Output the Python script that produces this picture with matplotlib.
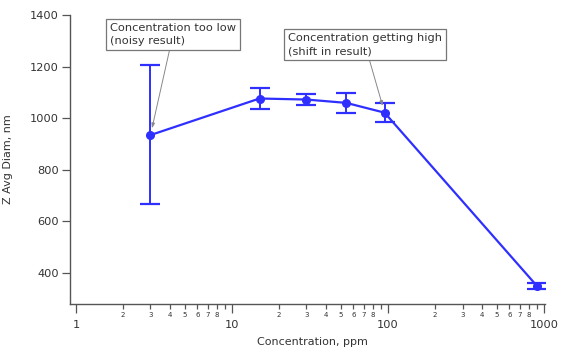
import numpy as np
import matplotlib
matplotlib.use("Agg")
import matplotlib.pyplot as plt
from matplotlib.ticker import FixedLocator, FixedFormatter, NullFormatter

# ---------------------------
# data
# ---------------------------
conc = [3, 15, 30, 54, 95, 900]
z_avg = [934, 1076, 1072, 1059, 1021, 348]
err_hi = [1205, 1117, 1092, 1098, 1059, 361]
err_lo = [665, 1036, 1051, 1018, 983, 338]

y_ticks = [400, 600, 800, 1000, 1200, 1400]
x_major = [1, 10, 100, 1000]
minor_digits = [2, 3, 4, 5, 6, 7, 8, 9]

blue = "#2f2fff"
axcol = "#555555"
txtcol = "#333333"

fig = plt.figure(figsize=(5.8, 3.51), dpi=100)
ax = fig.add_axes([0.1207, 0.134, 0.819, 0.823])

yerr = [np.array(z_avg) - np.array(err_lo), np.array(err_hi) - np.array(z_avg)]
ax.errorbar(conc, z_avg, yerr=yerr, color=blue, lw=1.6, marker="o", ms=5.5,
            capsize=7, capthick=1.6, elinewidth=1.4, zorder=3)

ax.set_xscale("log")
ax.set_xlim(0.915, 1014)
ax.set_ylim(278, 1400)

# x ticks: majors with big labels, minors 2..8 with small labels
minors = [m * 10 ** d for d in range(0, 3) for m in minor_digits]
ax.xaxis.set_major_locator(FixedLocator(x_major))
ax.xaxis.set_major_formatter(FixedFormatter([str(v) for v in x_major]))
ax.xaxis.set_minor_locator(FixedLocator(minors))
ax.xaxis.set_minor_formatter(FixedFormatter(["" if m == 9 else str(m)
                                             for d in range(0, 3) for m in minor_digits]))
ax.tick_params(axis="x", which="major", length=6.5, width=0.9, color=axcol,
               labelsize=8.2, labelcolor=txtcol, pad=5)
ax.tick_params(axis="x", which="minor", length=3.6, width=0.9, color=axcol,
               labelsize=5, labelcolor=txtcol, pad=2.5)

ax.set_yticks(y_ticks)
ax.yaxis.set_minor_formatter(NullFormatter())
ax.tick_params(axis="y", which="major", length=6, width=0.9, color=axcol,
               labelsize=8.2, labelcolor=txtcol, pad=2)

for s in ["top", "right"]:
    ax.spines[s].set_visible(False)
for s in ["left", "bottom"]:
    ax.spines[s].set_color(axcol)
    ax.spines[s].set_linewidth(1.0)

ax.set_xlabel("Concentration, ppm", fontsize=8, color=txtcol)
ax.xaxis.set_label_coords(0.51, -0.13, transform=ax.transAxes)
ax.xaxis.label.set_va("center")
ax.set_ylabel("Z Avg Diam, nm", fontsize=8, color=txtcol, labelpad=12)

# annotations
box = dict(boxstyle="square,pad=0.35", fc="white", ec="#777777", lw=0.9)
arrow = dict(arrowstyle="-|>,head_length=0.35,head_width=0.12", color="#888888",
             lw=0.7, shrinkA=0, shrinkB=5)
ax.annotate("Concentration too low\n(noisy result)", xy=(conc[0], z_avg[0]),
            xytext=(110 / 580, 1 - 23 / 351), textcoords="figure fraction",
            ha="left", va="top", fontsize=8.2, color=txtcol, linespacing=1.4,
            bbox=box, arrowprops=arrow)
ax.annotate("Concentration getting high\n(shift in result)", xy=(conc[4], z_avg[4]),
            xytext=(288 / 580, 1 - 33 / 351), textcoords="figure fraction",
            ha="left", va="top", fontsize=8.2, color=txtcol, linespacing=1.4,
            bbox=box, arrowprops=arrow)

fig.savefig("out.png", dpi=100)
